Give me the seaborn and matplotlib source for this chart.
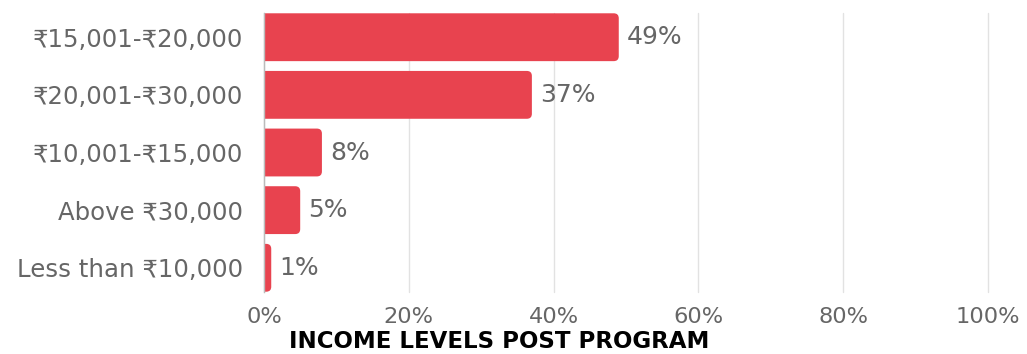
import matplotlib
matplotlib.use("Agg")
import matplotlib.pyplot as plt
from matplotlib.patches import FancyBboxPatch
import seaborn as sns
import pandas as pd

categories = ["₹15,001-₹20,000", "₹20,001-₹30,000", "₹10,001-₹15,000",
              "Above ₹30,000", "Less than ₹10,000"]
shares = [49, 37, 8, 5, 1]
x_ticks = [0, 20, 40, 60, 80, 100]
x_tick_labels = ["0%", "20%", "40%", "60%", "80%", "100%"]
title = "INCOME LEVELS POST PROGRAM"

BAR = "#E8434F"
TEXT = "#666666"

sns.set_theme(style="white")
plt.rcParams["font.family"] = ["DejaVu Sans"]

df = pd.DataFrame({"band": categories, "share": shares})

W, H = 1027, 354
fig = plt.figure(figsize=(W / 100, H / 100), dpi=100)
left, right, top, bottom = 264, 988, 13, 292
ax = fig.add_axes([left / W, 1 - bottom / H, (right - left) / W, (bottom - top) / H])

sns.barplot(data=df, y="band", x="share", orient="h", color=BAR,
            width=0.83, ax=ax, saturation=1)
ax.set_xlim(0, 100)
ax.set_ylim(4.42, -0.42)

# Swap the square bars for boxes with rounded right corners
px_x = (right - left) / 100.0      # pixels per data unit along x
px_y = (bottom - top) / 4.84       # pixels per data unit along y
radius_px = 5
r = radius_px / px_x
for bar in list(ax.patches):
    x0, y0 = bar.get_x(), bar.get_y()
    w, h = bar.get_width(), bar.get_height()
    box = FancyBboxPatch((x0 - r, y0), w + r, h,
                         boxstyle=f"round,pad=0,rounding_size={r}",
                         mutation_aspect=px_x / px_y,
                         facecolor=BAR, edgecolor="none", zorder=3)
    bar.remove()
    ax.add_patch(box)

for i, v in enumerate(shares):
    ax.text(v + 8 / px_x, i, f"{v}%", va="center", ha="left",
            fontsize=18, color=TEXT)

ax.set_xticks(x_ticks)
ax.set_xticklabels(x_tick_labels)
ax.tick_params(axis="x", length=0, pad=11, labelsize=16.2, labelcolor=TEXT)
ax.tick_params(axis="y", length=0, pad=15, labelsize=17.6, labelcolor=TEXT)
ax.set_xlabel("")
ax.set_ylabel("")
ax.xaxis.grid(True, color="#E2E2E2", linewidth=1)
for gl in ax.get_xgridlines():
    gl.set_clip_on(False)
ax.set_axisbelow(True)
for s in ["top", "right", "bottom"]:
    ax.spines[s].set_visible(False)
ax.spines["left"].set_color("#BBBBBB")
ax.spines["left"].set_linewidth(1)
ax.spines["left"].set_zorder(4)

fig.text(499 / W, 1 - 342 / H, title, ha="center", va="center",
         fontsize=16.5, fontweight="bold", color="black")

fig.savefig("out.png", dpi=100, facecolor="white")
